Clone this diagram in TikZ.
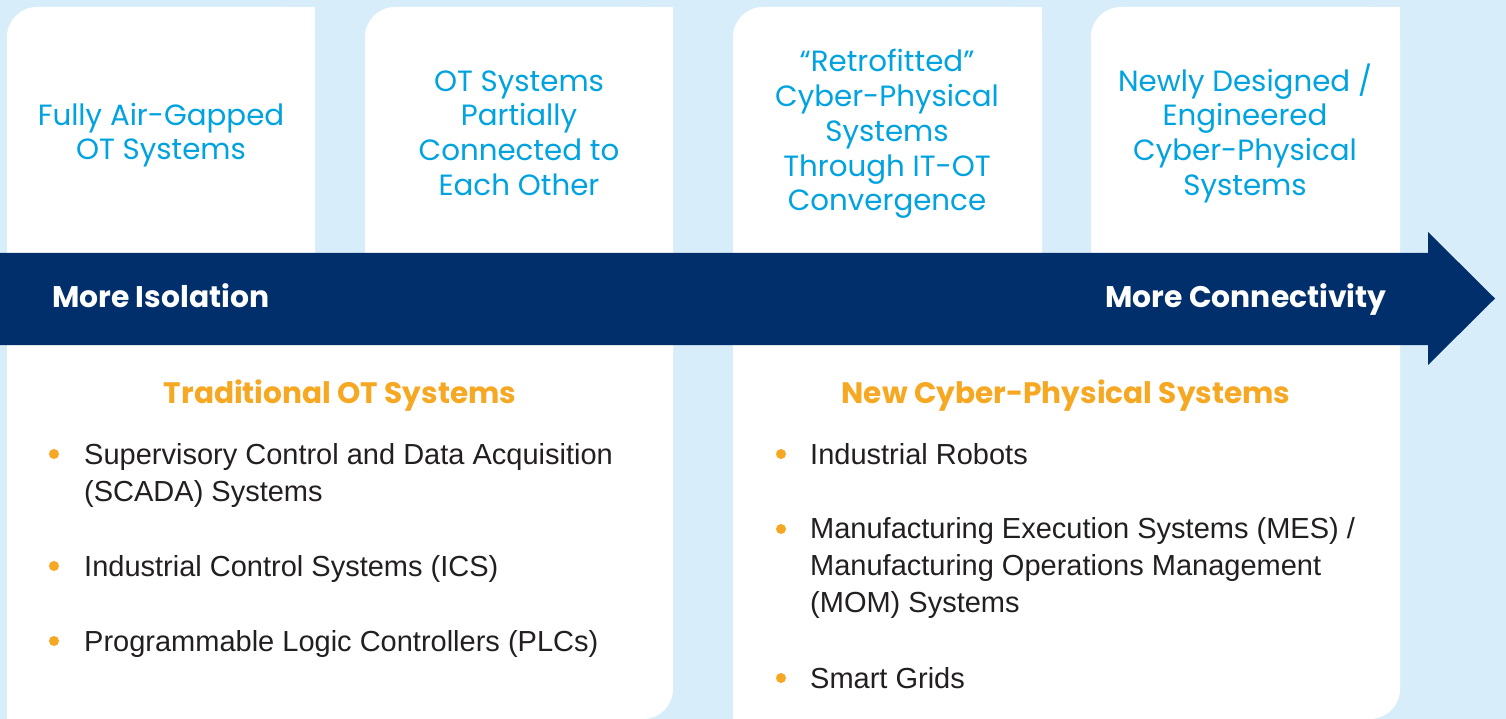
\documentclass[tikz,border=0pt]{standalone}
\usepackage{fontspec}
\setmainfont{Liberation Sans}
\newfontfamily\headfont{Poppins}
\newfontfamily\headbold{Poppins}[UprightFont=* Bold]
\definecolor{bgblue}{HTML}{D7EEFA}
\definecolor{navy}{HTML}{002F6C}
\definecolor{cyantext}{HTML}{00A3E0}
\definecolor{orangec}{HTML}{F7A823}
\definecolor{bodytext}{HTML}{231F20}
\tikzset{
  toptext/.style={text=cyantext, align=center, anchor=base, inner sep=0pt, font=\headfont\fontsize{29.3}{34.8}\selectfont},
  bandtext/.style={text=white, inner sep=0pt, font=\headbold\fontsize{29.8}{30}\selectfont},
  headtext/.style={text=orangec, anchor=base, inner sep=0pt, font=\headbold\fontsize{29.6}{30}\selectfont},
  itemtext/.style={text=bodytext, anchor=base west, align=left, inner sep=0pt, font=\fontsize{29}{36.8}\selectfont},
  dot/.style={circle, fill=orangec, inner sep=0pt, minimum size=10pt},
}
\begin{document}
\begin{tikzpicture}[x=1pt,y=-1pt]
\useasboundingbox (0,0) rectangle (1506,719);
\fill[bgblue] (0,0) rectangle (1506,719);
% top cards
\foreach \a/\b in {7/315, 365/673, 733/1042, 1091/1400}{
  \fill[white, rounded corners=30pt] (\a,7) rectangle (\b,300);
  \fill[white] ({\a+60},7) rectangle (\b,300);
}
% bottom cards
\foreach \a/\b in {7/673, 733/1400}{
  \fill[white, rounded corners=30pt] (\a,300) rectangle (\b,719);
  \fill[white] (\a,300) rectangle ({\b-60},719);
  \fill[white] (\a,300) rectangle (\b,650);
}
% arrow band
\fill[navy] (0,253) -- (1428,253) -- (1428,232) -- (1495,298.5) -- (1428,365) -- (1428,345) -- (0,345) -- cycle;
\node[bandtext, anchor=base west] (iso) at (52,307) {More Isolation};
\node[bandtext, anchor=base] (con) at (1246,307) {More Connectivity};
% top texts (anchored at the baseline of the last line)
\node[toptext] (t1) at (161,160) {Fully Air-Gapped\\OT Systems};
\node[toptext] (t2) at (519,195.5) {OT Systems\\Partially\\Connected to\\Each Other};
\node[toptext] (t3) at (887,211) {“Retrofitted”\\Cyber-Physical\\Systems\\Through IT-OT\\Convergence};
\node[toptext] (t4) at (1245,195.5) {Newly Designed /\\Engineered\\Cyber-Physical\\Systems};
% headings
\node[headtext] (h1) at (340,403) {Traditional OT Systems};
\node[headtext] (h2) at (1066,403) {New Cyber-Physical Systems};
% left items (anchored at the baseline of the last line)
\node[dot] (d1) at (54,454) {};
\node[itemtext] (i1) at (84,501) {Supervisory Control and Data Acquisition\\(SCADA) Systems};
\node[dot] (d2) at (54,566) {};
\node[itemtext] (i2) at (84,576) {Industrial Control Systems (ICS)};
\node[dot] (d3) at (54,641) {};
\node[itemtext] (i3) at (84,651) {Programmable Logic Controllers (PLCs)};
% right items
\node[dot] (d4) at (781,454) {};
\node[itemtext] (i4) at (810,464) {Industrial Robots};
\node[dot] (d5) at (781,529) {};
\node[itemtext] (i5) at (810,612) {Manufacturing Execution Systems (MES) /\\Manufacturing Operations Management\\(MOM) Systems};
\node[dot] (d6) at (781,678) {};
\node[itemtext] (i6) at (810,688) {Smart Grids};
\end{tikzpicture}
\end{document}
